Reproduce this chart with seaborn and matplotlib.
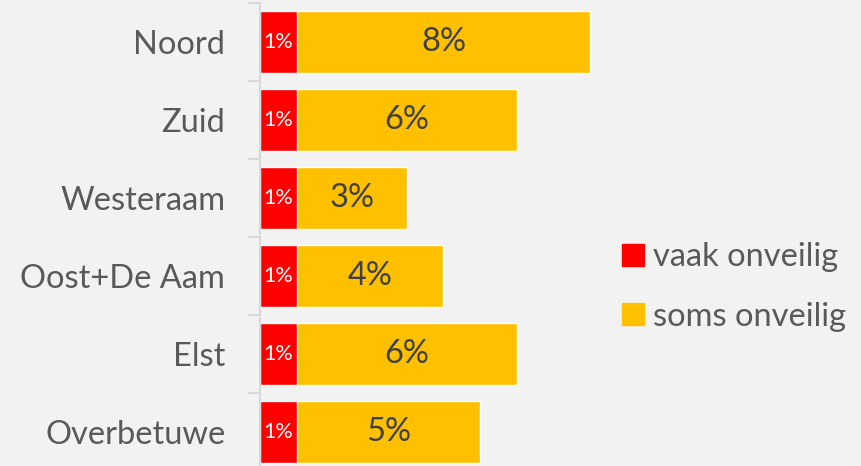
import numpy as np
import pandas as pd
import seaborn as sns
import matplotlib.pyplot as plt
from matplotlib.patches import Patch

# -----------------------------
# Data
# -----------------------------
regions = ["Noord", "Zuid", "Westeraam", "Oost+De Aam", "Elst", "Overbetuwe"]
vaak = [1, 1, 1, 1, 1, 1]
soms = [8, 6, 3, 4, 6, 5]

df = pd.DataFrame({"regio": regions, "vaak": vaak, "soms": soms})
df["totaal"] = df["vaak"] + df["soms"]

red = "#ff0000"
yellow = "#ffc000"
bg = "#f2f2f2"

sns.set_theme(style="white")
plt.rcParams["font.family"] = ["Lato", "DejaVu Sans"]

fig = plt.figure(figsize=(8.62, 4.66), dpi=100, facecolor=bg)
ax = fig.add_axes([260 / 862, -5 / 466, 367 / 862, 468 / 466])
ax.set_facecolor(bg)

# stacked: total in yellow, red on top
sns.barplot(data=df, y="regio", x="totaal", color=yellow, width=0.8,
            orient="h", ax=ax, saturation=1)
sns.barplot(data=df, y="regio", x="vaak", color=red, width=0.8,
            orient="h", ax=ax, saturation=1)

ax.set_xlim(0, 10)
ax.set_ylim(5.5, -0.5)
ax.set_xlabel("")
ax.set_ylabel("")
ax.set_xticks([])

# labels
for i, (v, s) in enumerate(zip(vaak, soms)):
    ax.text(v / 2, i, f"{v}%", ha="center", va="center", color="white", fontsize=15.5)
    ax.text(v + s / 2, i, f"{s}%", ha="center", va="center", color="#404040", fontsize=23.5)

for sp in ["top", "right", "bottom"]:
    ax.spines[sp].set_visible(False)
ax.spines["left"].set_color("#d9d9d9")
ax.spines["left"].set_linewidth(1.5)

ax.set_yticks(np.arange(len(regions)))
ax.set_yticklabels(regions, fontsize=23.5, color="#595959")
ax.tick_params(axis="y", which="major", left=True, length=0, pad=25)
# ticks at category boundaries
ax.set_yticks(np.arange(-0.5, len(regions)), minor=True)
ax.tick_params(axis="y", which="minor", left=True, length=9, width=1.5,
               color="#d9d9d9", direction="out")

handles = [Patch(color=red, label="vaak onveilig"), Patch(color=yellow, label="soms onveilig")]
fig.legend(handles=handles, loc="center left", bbox_to_anchor=(606 / 862, (466 - 287) / 466),
           frameon=False, fontsize=23.5, labelcolor="#595959", handlelength=0.65,
           handleheight=0.65, handletextpad=0.3, labelspacing=0.9, borderpad=0)

plt.savefig("out.png", dpi=100, facecolor=bg)
plt.close()
